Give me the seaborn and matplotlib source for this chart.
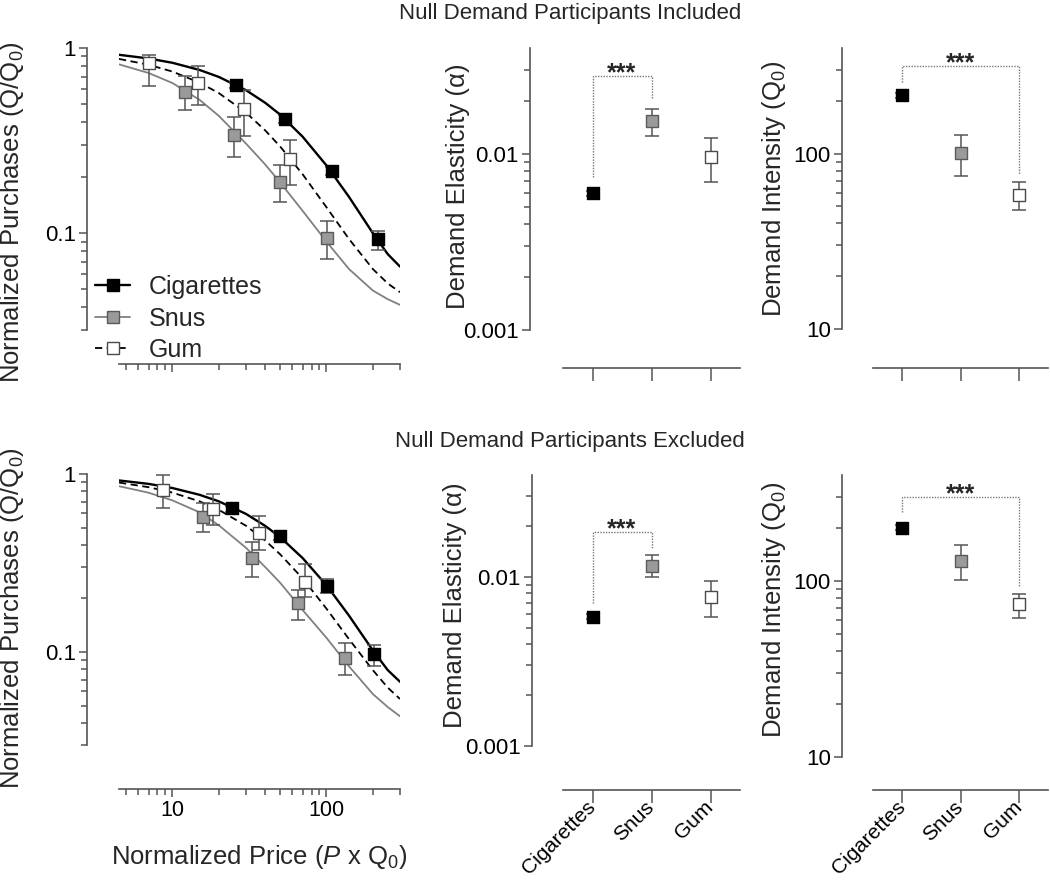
import matplotlib
matplotlib.use("Agg")
import matplotlib.pyplot as plt
from matplotlib.lines import Line2D
from matplotlib.ticker import FixedLocator, FixedFormatter, NullFormatter
import numpy as np
import pandas as pd
import seaborn as sns

# ------------------------------------------------------------------ data
products = ["Cigarettes", "Snus", "Gum"]

# Demand points, null-demand participants included
inc_cig_price = [26, 54, 108, 215]
inc_cig_q = [0.63, 0.415, 0.216, 0.093]
inc_cig_lo = [0.605, 0.395, 0.205, 0.081]
inc_cig_hi = [0.655, 0.435, 0.228, 0.103]

inc_snus_price = [12.1, 25, 50.2, 100.5]
inc_snus_q = [0.582, 0.338, 0.189, 0.094]
inc_snus_lo = [0.46, 0.257, 0.147, 0.0724]
inc_snus_hi = [0.707, 0.424, 0.232, 0.116]

inc_gum_price = [7.0, 14.6, 29.0, 58.3]
inc_gum_q = [0.828, 0.646, 0.468, 0.252]
inc_gum_lo = [0.627, 0.494, 0.336, 0.183]
inc_gum_hi = [0.92, 0.80, 0.594, 0.32]

# Demand points, null-demand participants excluded
exc_cig_price = [24.3, 50.0, 100.5, 202]
exc_cig_q = [0.641, 0.448, 0.235, 0.0975]
exc_cig_lo = [0.615, 0.425, 0.214, 0.0838]
exc_cig_hi = [0.665, 0.47, 0.257, 0.110]

exc_snus_price = [15.7, 32.7, 65.5, 131]
exc_snus_q = [0.575, 0.336, 0.188, 0.093]
exc_snus_lo = [0.474, 0.265, 0.151, 0.074]
exc_snus_hi = [0.69, 0.417, 0.223, 0.112]

exc_gum_price = [8.75, 18.4, 36.5, 72.8]
exc_gum_q = [0.813, 0.638, 0.468, 0.248]
exc_gum_lo = [0.647, 0.515, 0.374, 0.203]
exc_gum_hi = [0.987, 0.775, 0.581, 0.311]

# Fitted demand curves
curve_price = [4.5, 7, 10, 15, 20, 30, 40, 50, 70, 100, 140, 200, 250, 300]
inc_cig_curve = [0.919, 0.878, 0.832, 0.761, 0.698, 0.592, 0.506, 0.437, 0.332, 0.232, 0.157, 0.100, 0.077, 0.066]
inc_snus_curve = [0.816, 0.733, 0.647, 0.525, 0.430, 0.305, 0.235, 0.188, 0.132, 0.090, 0.064, 0.049, 0.044, 0.041]
inc_gum_curve = [0.873, 0.812, 0.746, 0.650, 0.571, 0.448, 0.359, 0.294, 0.208, 0.138, 0.093, 0.064, 0.0535, 0.048]
exc_cig_curve = [0.920, 0.880, 0.834, 0.764, 0.702, 0.597, 0.511, 0.442, 0.337, 0.237, 0.160, 0.102, 0.079, 0.068]
exc_snus_curve = [0.854, 0.785, 0.711, 0.609, 0.515, 0.385, 0.300, 0.245, 0.172, 0.120, 0.083, 0.058, 0.049, 0.0435]
exc_gum_curve = [0.895, 0.843, 0.786, 0.702, 0.629, 0.512, 0.423, 0.354, 0.259, 0.175, 0.118, 0.079, 0.063, 0.0544]

# Demand elasticity (alpha) and intensity (Q0), mean with error range
inc_alpha = [0.00598, 0.01538, 0.00958]
inc_alpha_lo = [0.0058, 0.01273, 0.00695]
inc_alpha_hi = [0.0062, 0.0181, 0.0123]
inc_q0 = [215, 101, 57.8]
inc_q0_lo = [208, 74.6, 47.4]
inc_q0_hi = [222, 127, 68.9]

exc_alpha = [0.00582, 0.01166, 0.00764]
exc_alpha_lo = [0.00565, 0.01004, 0.00578]
exc_alpha_hi = [0.006, 0.0135, 0.00947]
exc_q0 = [201, 130.6, 73.9]
exc_q0_lo = [195, 101, 61.5]
exc_q0_hi = [207, 161, 84.3]

# ------------------------------------------------------------------ style
sns.set_theme(style="ticks")
plt.rcParams["font.family"] = ["Liberation Sans", "DejaVu Sans"]
plt.rcParams.update({
    "mathtext.fontset": "custom",
    "mathtext.rm": "Liberation Sans",
    "mathtext.it": "Liberation Sans:italic",
    "mathtext.bf": "Liberation Sans:bold",
    "mathtext.default": "regular",
})

AXC = "#555555"
TICK_FS = 16
LABEL_FS = 18.5
TITLE_FS = 16

styles = {
    "Cigarettes": dict(line="#000000", ls="-", lw=1.7, face="#000000", edge="#000000"),
    "Snus": dict(line="#808080", ls="-", lw=1.3, face="#9a9a9a", edge="#5a5a5a"),
    "Gum": dict(line="#000000", ls=(0, (4, 2.5)), lw=1.3, face="#ffffff", edge="#4a4a4a"),
}

W, H = 1050, 888
fig = plt.figure(figsize=(W / 100, H / 100), dpi=100)


def add_axes(l, t, r, b):
    return fig.add_axes([l / W, 1 - b / H, (r - l) / W, (b - t) / H])


def style_spines(ax, left_off, bottom_off):
    sns.despine(ax=ax, offset=dict(left=left_off, bottom=bottom_off))
    for s in ("left", "bottom"):
        ax.spines[s].set_color(AXC)
        ax.spines[s].set_linewidth(1.2)
    ax.tick_params(which="both", direction="out", color=AXC, labelcolor="black", width=1.1)
    ax.tick_params(which="major", length=6, pad=2)
    ax.tick_params(which="minor", length=4)
    ax.tick_params(axis="y", labelsize=TICK_FS)
    ax.tick_params(axis="x", labelsize=15.5)


def demand_panel(ax, series, y_off, x_off, show_xlabels):
    ax.set_xscale("log")
    ax.set_yscale("log")
    for name, price, q, lo, hi, curve in series:
        st = styles[name]
        sns.lineplot(x=curve_price, y=curve, ax=ax, color=st["line"], linestyle=st["ls"],
                     lw=st["lw"], estimator=None, sort=False, zorder=1)
        q_arr = np.array(q)
        ax.errorbar(price, q, yerr=[q_arr - np.array(lo), np.array(hi) - q_arr], fmt="none",
                    ecolor=AXC, elinewidth=1.1, capsize=5, capthick=1.1, zorder=3)
        sns.scatterplot(x=price, y=q, ax=ax, marker="s", s=72, color=st["face"],
                        edgecolor=st["edge"], linewidth=1, zorder=4, legend=False)
    ax.set_xlim(4.5, 300)
    ax.set_ylim(0.03, 1)
    ax.yaxis.set_major_locator(FixedLocator([0.1, 1]))
    ax.yaxis.set_major_formatter(FixedFormatter(["0.1", "1"]))
    ax.yaxis.set_minor_locator(FixedLocator([0.03, 0.04, 0.05, 0.06, 0.07, 0.08, 0.09,
                                             0.2, 0.3, 0.4, 0.5, 0.6, 0.7, 0.8, 0.9]))
    ax.yaxis.set_minor_formatter(NullFormatter())
    ax.xaxis.set_major_locator(FixedLocator([10, 100]))
    ax.xaxis.set_major_formatter(FixedFormatter(["10", "100"]))
    ax.xaxis.set_minor_locator(FixedLocator([5, 6, 7, 8, 9, 20, 30, 40, 50, 60, 70, 80, 90, 200, 300]))
    ax.xaxis.set_minor_formatter(NullFormatter())
    style_spines(ax, y_off, x_off)
    ax.tick_params(axis="x", labelbottom=show_xlabels)
    ax.set_ylabel("Normalized Purchases (Q/Q$_0$)", fontsize=LABEL_FS)
    ax.set_xlabel("")


def category_panel(ax, vals, lo, hi, kind, bracket_x, bracket_y, y_off, x_off, show_xlabels):
    ax.set_yscale("log")
    v = np.array(vals)
    ax.errorbar(products, vals, yerr=[v - np.array(lo), np.array(hi) - v], fmt="none",
                ecolor=AXC, elinewidth=1.1, capsize=5, capthick=1.1, zorder=3)
    for i, name in enumerate(products):
        st = styles[name]
        sns.scatterplot(x=[name], y=[vals[i]], ax=ax, marker="s", s=72, color=st["face"],
                        edgecolor=st["edge"], linewidth=1, zorder=4, legend=False)
    ax.plot(bracket_x, bracket_y, ls=(0, (1, 1)), color="#777777", lw=1.0, zorder=2)
    mid = (products.index(bracket_x[0]) + products.index(bracket_x[-1])) / 2
    ax.annotate("***", xy=(mid, bracket_y[1]), xytext=(0, -3), textcoords="offset points",
                ha="center", va="baseline", fontsize=18, fontweight="bold")
    ax.set_xlim(-0.5, 2.5)
    if kind == "alpha":
        ax.set_ylim(0.001, 0.04)
        ax.yaxis.set_major_locator(FixedLocator([0.001, 0.01]))
        ax.yaxis.set_major_formatter(FixedFormatter(["0.001", "0.01"]))
        ax.yaxis.set_minor_locator(FixedLocator([0.002, 0.003, 0.004, 0.005, 0.006, 0.007,
                                                 0.008, 0.009, 0.02, 0.03]))
        ax.set_ylabel("Demand Elasticity (α)", fontsize=LABEL_FS)
    else:
        ax.set_ylim(10, 400)
        ax.yaxis.set_major_locator(FixedLocator([10, 100]))
        ax.yaxis.set_major_formatter(FixedFormatter(["10", "100"]))
        ax.yaxis.set_minor_locator(FixedLocator([20, 30, 40, 50, 60, 70, 80, 90, 200, 300]))
        ax.set_ylabel("Demand Intensity (Q$_0$)", fontsize=LABEL_FS)
    ax.yaxis.set_minor_formatter(NullFormatter())
    style_spines(ax, y_off, x_off)
    ax.tick_params(axis="x", which="major", length=9, labelsize=15, pad=1)
    ax.set_xlabel("")
    if show_xlabels:
        plt.setp(ax.get_xticklabels(), rotation=45, ha="right", va="center",
                 rotation_mode="anchor")
    else:
        ax.tick_params(axis="x", labelbottom=False)


# ------------------------------------------------------------------ panels
ax_tl = add_axes(119, 48, 400, 330)
ax_bl = add_axes(119, 474, 400, 745)
ax_tm = add_axes(563, 48, 740, 330)
ax_tr = add_axes(873, 48, 1048, 329)
ax_bm = add_axes(563, 475, 740, 746)
ax_br = add_axes(873, 475, 1048, 757)

demand_panel(ax_tl, [
    ("Cigarettes", inc_cig_price, inc_cig_q, inc_cig_lo, inc_cig_hi, inc_cig_curve),
    ("Snus", inc_snus_price, inc_snus_q, inc_snus_lo, inc_snus_hi, inc_snus_curve),
    ("Gum", inc_gum_price, inc_gum_q, inc_gum_lo, inc_gum_hi, inc_gum_curve),
], 23, 24.5, False)
demand_panel(ax_bl, [
    ("Cigarettes", exc_cig_price, exc_cig_q, exc_cig_lo, exc_cig_hi, exc_cig_curve),
    ("Snus", exc_snus_price, exc_snus_q, exc_snus_lo, exc_snus_hi, exc_snus_curve),
    ("Gum", exc_gum_price, exc_gum_q, exc_gum_lo, exc_gum_hi, exc_gum_curve),
], 23, 31.7, True)
ax_bl.set_xlabel("Normalized Price ($\\mathit{P}$ x Q$_0$)", fontsize=LABEL_FS)

category_panel(ax_tm, inc_alpha, inc_alpha_lo, inc_alpha_hi, "alpha",
               ["Cigarettes", "Cigarettes", "Snus", "Snus"], [0.00736, 0.0277, 0.0277, 0.0204],
               23.8, 27.4, False)
category_panel(ax_tr, inc_q0, inc_q0_lo, inc_q0_hi, "q0",
               ["Cigarettes", "Cigarettes", "Gum", "Gum"], [257, 317, 317, 76.9],
               22.3, 28, False)
category_panel(ax_bm, exc_alpha, exc_alpha_lo, exc_alpha_hi, "alpha",
               ["Cigarettes", "Cigarettes", "Snus", "Snus"], [0.00699, 0.0183, 0.0183, 0.01479],
               22.3, 31.7, True)
category_panel(ax_br, exc_q0, exc_q0_lo, exc_q0_hi, "q0",
               ["Cigarettes", "Cigarettes", "Gum", "Gum"], [247, 301, 301, 94],
               22.3, 23.8, True)

# label positions
ax_tl.yaxis.set_label_coords(-0.331, 0.42)
ax_bl.yaxis.set_label_coords(-0.331, 0.47)
ax_bl.xaxis.set_label_coords(0.5, -0.36)
ax_tm.yaxis.set_label_coords(-0.525, 0.51)
ax_bm.yaxis.set_label_coords(-0.54, 0.52)
ax_tr.yaxis.set_label_coords(-0.486, 0.50)
ax_br.yaxis.set_label_coords(-0.486, 0.52)

# legend
handles = [Line2D([0], [0], color=styles[p]["line"], ls=styles[p]["ls"], lw=styles[p]["lw"],
                  marker="s", markersize=9, markerfacecolor=styles[p]["face"],
                  markeredgecolor=styles[p]["edge"], markeredgewidth=1) for p in products]
ax_tl.legend(handles, products, loc="upper left", bbox_to_anchor=(95 / W, 1 - 275 / H),
             bbox_transform=fig.transFigure, frameon=False, fontsize=18, handlelength=1.4,
             handletextpad=0.75, labelspacing=0.3, borderpad=0, borderaxespad=0)

fig.text(570 / W, 1 - 14 / H, "Null Demand Participants Included", ha="center", va="center",
         fontsize=TITLE_FS)
fig.text(570 / W, 1 - 441 / H, "Null Demand Participants Excluded", ha="center", va="center",
         fontsize=TITLE_FS)

fig.savefig("out.png", dpi=100)
